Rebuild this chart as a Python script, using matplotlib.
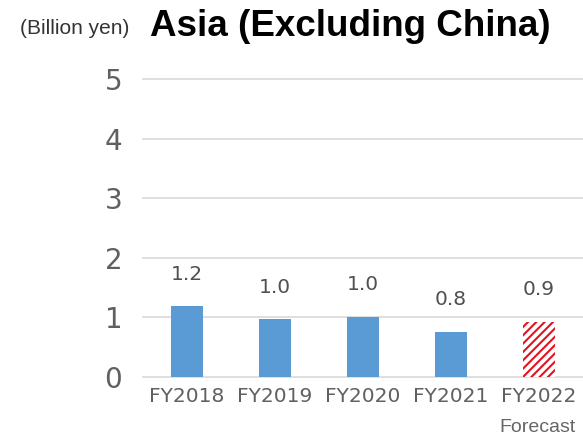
import matplotlib
matplotlib.use("Agg")
import matplotlib.pyplot as plt

# Data
years = ["FY2018", "FY2019", "FY2020", "FY2021", "FY2022"]
sales = [1.19, 0.97, 1.01, 0.76, 0.93]
is_forecast = [False, False, False, False, True]
y_ticks = [0, 1, 2, 3, 4, 5]

plt.rcParams["hatch.linewidth"] = 1.5

W, H = 583, 437
fig = plt.figure(figsize=(W / 100, H / 100), dpi=100)
ax = fig.add_axes([143 / W, 60 / H, 440 / W, 298 / H])

tick_font = ["DejaVu Sans"]
grey = "#606060"
blue = "#5b9bd5"
red = "#e3121f"

x = range(len(years))
for i, (v, fc) in enumerate(zip(sales, is_forecast)):
    if fc:
        ax.bar(i, v, width=0.37, color="white", edgecolor=red,
               hatch="////", linewidth=0, zorder=3)
    else:
        ax.bar(i, v, width=0.37, color=blue, linewidth=0, zorder=3)
    ax.annotate(f"{v:.1f}", xy=(i, v), xytext=(0, 23),
                textcoords="offset points", ha="center", va="center",
                fontsize=14.5, color="#505050", family=tick_font)

ax.set_xlim(-0.5, len(years) - 0.5)
ax.set_ylim(0, 5)
ax.set_yticks(y_ticks)
ax.set_yticklabels([str(t) for t in y_ticks])
ax.set_xticks(list(x))
ax.set_xticklabels(years)
for yv in y_ticks:
    ax.axhline(yv, color="#d9d9d9", lw=1.2, zorder=1, clip_on=False)

for s in ax.spines.values():
    s.set_visible(False)
ax.tick_params(axis="y", length=0, pad=15, labelsize=20, labelcolor=grey)
ax.tick_params(axis="x", length=0, pad=7, labelsize=14.5, labelcolor=grey)
for lab in ax.get_yticklabels() + ax.get_xticklabels():
    lab.set_family(tick_font)

fig.text(150 / W, 1 - 27 / H, "Asia (Excluding China)", fontsize=26.5,
         fontweight="bold", family="Liberation Sans", va="center", ha="left",
         color="black")
fig.text(20 / W, 1 - 29 / H, "(Billion yen)", fontsize=15,
         family="Liberation Sans", va="center", ha="left", color="#333333")
fig.text(576 / W, 1 - 427 / H, "Forecast", fontsize=14,
         family="Liberation Sans", va="center", ha="right", color="#666666")

fig.savefig("out.png", dpi=100)
